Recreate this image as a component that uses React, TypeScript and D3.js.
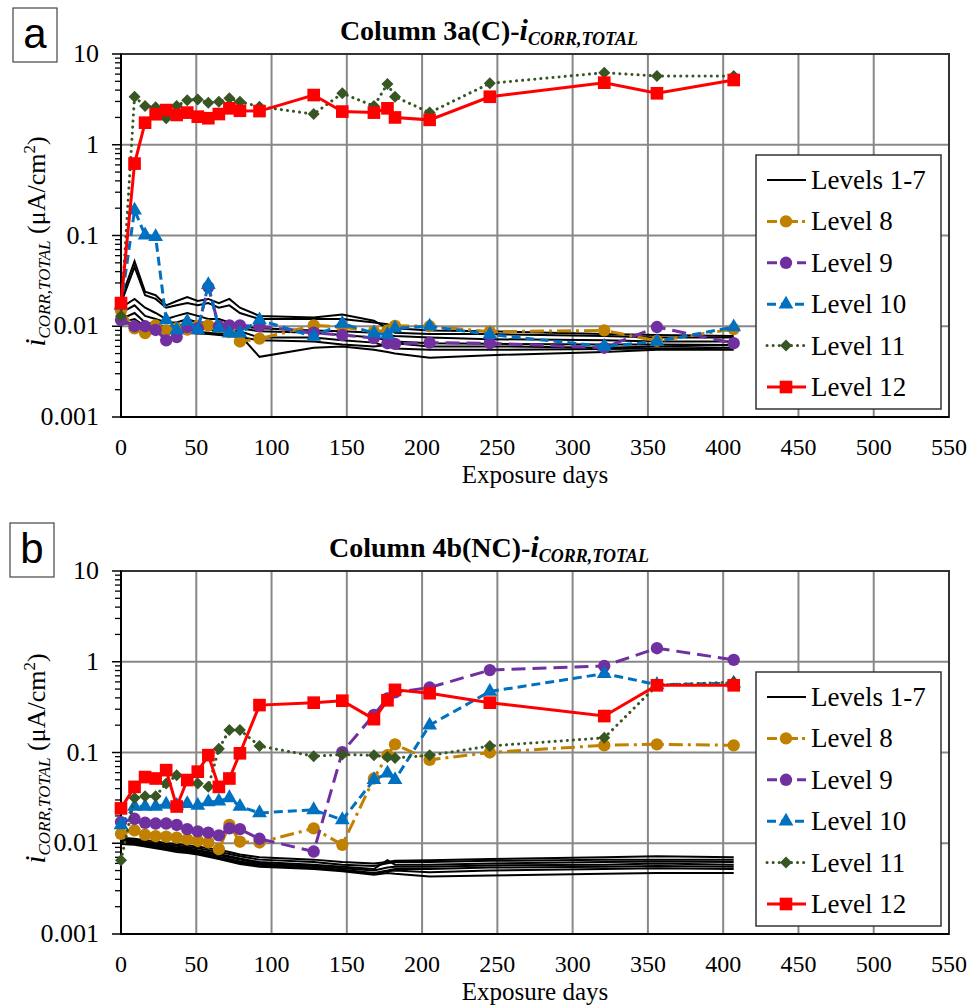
import React from 'react'
import * as d3 from 'd3'

// exposure days shared by every series
const days = [0, 9, 16, 23, 30, 37, 44, 51, 58, 65, 72, 79, 92, 128, 147, 168, 177, 182, 205, 245, 321, 356, 407]

// Column 3a (C)
const a_levels17 = [
  [0.02, 0.052, 0.024, 0.022, 0.017, 0.019, 0.021, 0.019, 0.02, 0.018, 0.02, 0.016, 0.013, 0.0125, 0.0135, 0.0115, 0.0095, 0.0085, 0.0082, 0.0082, 0.0078, 0.0075, 0.0075],
  [0.018, 0.045, 0.022, 0.02, 0.016, 0.017, 0.018, 0.017, 0.018, 0.016, 0.017, 0.014, 0.012, 0.012, 0.012, 0.011, 0.0105, 0.0095, 0.009, 0.0088, 0.0082, 0.008, 0.0078],
  [0.016, 0.02, 0.016, 0.014, 0.012, 0.013, 0.014, 0.013, 0.012, 0.012, 0.011, 0.01, 0.0095, 0.009, 0.0088, 0.0085, 0.008, 0.0078, 0.0075, 0.0072, 0.007, 0.0068, 0.0068],
  [0.014, 0.017, 0.013, 0.012, 0.011, 0.011, 0.012, 0.011, 0.011, 0.01, 0.01, 0.0095, 0.0088, 0.0085, 0.008, 0.0075, 0.007, 0.0068, 0.0065, 0.0064, 0.0063, 0.0063, 0.0062],
  [0.012, 0.014, 0.011, 0.0105, 0.0098, 0.0095, 0.0098, 0.0095, 0.0092, 0.009, 0.009, 0.0088, 0.0075, 0.0075, 0.007, 0.0066, 0.006, 0.0057, 0.0055, 0.0055, 0.0056, 0.0057, 0.0058],
  [0.011, 0.012, 0.01, 0.0095, 0.009, 0.009, 0.0088, 0.0087, 0.0085, 0.0083, 0.0082, 0.008, 0.0046, 0.0058, 0.006, 0.0055, 0.0052, 0.005, 0.0045, 0.0048, 0.0052, 0.0055, 0.0055],
  [0.0105, 0.011, 0.0098, 0.009, 0.0087, 0.0085, 0.0085, 0.0083, 0.0082, 0.008, 0.0078, 0.0076, 0.007, 0.0068, 0.0063, 0.006, 0.0062, 0.0065, 0.006, 0.006, 0.0058, 0.006, 0.0062]
]
const a_level8 = [0.015, 0.0095, 0.0084, 0.0102, 0.009, 0.0095, 0.0092, 0.01, 0.0102, 0.0098, 0.0086, 0.0068, 0.0073, 0.0102, 0.0098, 0.0087, 0.009, 0.0101, 0.01, 0.0087, 0.009, 0.0069, 0.0093]
const a_level9 = [0.0117, 0.01, 0.01, 0.0091, 0.007, 0.0076, 0.0098, 0.0095, 0.027, 0.01, 0.0102, 0.0102, 0.01, 0.0085, 0.008, 0.0074, 0.0065, 0.0064, 0.0066, 0.0065, 0.0058, 0.0098, 0.0065]
const a_level10 = [0.017, 0.19, 0.101, 0.097, 0.0117, 0.0091, 0.0113, 0.0091, 0.0286, 0.0095, 0.0084, 0.0084, 0.0117, 0.0077, 0.0107, 0.0084, 0.0081, 0.0095, 0.01, 0.0081, 0.006, 0.0068, 0.0098]
const a_level11 = [0.013, 3.38, 2.67, 2.59, 1.96, 2.67, 3.1, 3.16, 2.9, 2.98, 3.25, 2.98, 2.63, 2.18, 3.69, 2.67, 4.67, 3.38, 2.26, 4.75, 6.22, 5.72, 5.72]
const a_level12 = [0.018, 0.62, 1.75, 2.17, 2.41, 2.13, 2.26, 2.04, 1.96, 2.18, 2.52, 2.37, 2.35, 3.53, 2.32, 2.26, 2.52, 2.0, 1.88, 3.38, 4.83, 3.69, 5.17]

// Column 4b (NC)
const b_levels17 = [
  [0.0115, 0.0112, 0.0108, 0.0105, 0.01, 0.0098, 0.0095, 0.0092, 0.0088, 0.0085, 0.008, 0.0075, 0.007, 0.0066, 0.0062, 0.006, 0.0062, 0.0064, 0.0065, 0.0067, 0.007, 0.0072, 0.007],
  [0.011, 0.0108, 0.0104, 0.01, 0.0096, 0.0094, 0.0091, 0.0088, 0.0084, 0.008, 0.0076, 0.0072, 0.0066, 0.0062, 0.0058, 0.0056, 0.006, 0.0062, 0.0062, 0.0064, 0.0066, 0.0066, 0.0066],
  [0.0108, 0.0104, 0.01, 0.0097, 0.0093, 0.009, 0.0088, 0.0084, 0.008, 0.0076, 0.0072, 0.0068, 0.0062, 0.0058, 0.0055, 0.0052, 0.0065, 0.0058, 0.0058, 0.006, 0.0062, 0.0063, 0.0062],
  [0.0105, 0.0102, 0.0098, 0.0094, 0.009, 0.0088, 0.0085, 0.0082, 0.0078, 0.0074, 0.007, 0.0066, 0.006, 0.0056, 0.0053, 0.005, 0.0054, 0.0055, 0.0055, 0.0057, 0.0058, 0.006, 0.0058],
  [0.0102, 0.01, 0.0096, 0.0092, 0.0088, 0.0085, 0.0082, 0.0079, 0.0075, 0.0071, 0.0067, 0.0063, 0.0058, 0.0054, 0.0051, 0.0047, 0.005, 0.0052, 0.0052, 0.0054, 0.0055, 0.0056, 0.0055],
  [0.01, 0.0098, 0.0094, 0.009, 0.0086, 0.0083, 0.008, 0.0077, 0.0073, 0.0069, 0.0065, 0.0061, 0.0056, 0.0053, 0.005, 0.0046, 0.0049, 0.005, 0.0048, 0.005, 0.0052, 0.0053, 0.0052],
  [0.0098, 0.0096, 0.0092, 0.0088, 0.0084, 0.008, 0.0078, 0.0075, 0.0071, 0.0067, 0.0063, 0.0059, 0.0055, 0.0052, 0.0049, 0.0045, 0.0047, 0.0046, 0.0043, 0.0044, 0.0046, 0.0047, 0.0047]
]
const b_level8 = [0.0127, 0.0139, 0.0124, 0.012, 0.0118, 0.0115, 0.011, 0.0106, 0.0102, 0.0086, 0.0159, 0.0104, 0.0102, 0.0146, 0.0096, 0.0517, 0.0935, 0.123, 0.083, 0.1, 0.12, 0.123, 0.12]
const b_level9 = [0.0171, 0.0186, 0.0168, 0.0165, 0.0165, 0.0159, 0.0143, 0.0135, 0.0131, 0.0122, 0.0146, 0.0143, 0.0112, 0.0081, 0.101, 0.26, 0.395, 0.46, 0.52, 0.81, 0.9, 1.41, 1.05]
const b_level10 = [0.0159, 0.0254, 0.0254, 0.0254, 0.0268, 0.026, 0.0272, 0.026, 0.0285, 0.029, 0.0316, 0.0254, 0.0216, 0.0233, 0.0181, 0.05, 0.059, 0.05, 0.2, 0.47, 0.74, 0.56, 0.58]
const b_level11 = [0.0065, 0.0316, 0.033, 0.033, 0.0456, 0.056, 0.05, 0.0456, 0.042, 0.11, 0.177, 0.177, 0.118, 0.091, 0.095, 0.093, 0.089, 0.087, 0.093, 0.118, 0.145, 0.55, 0.6]
const b_level12 = [0.0242, 0.0418, 0.0536, 0.0517, 0.0639, 0.0254, 0.0497, 0.0615, 0.0935, 0.0418, 0.0517, 0.098, 0.333, 0.354, 0.372, 0.233, 0.376, 0.49, 0.45, 0.354, 0.252, 0.55, 0.55]

const xTicks = [0, 50, 100, 150, 200, 250, 300, 350, 400, 450, 500, 550]
const yTicks = [10, 1, 0.1, 0.01, 0.001]
const yTickLabels = ['10', '1', '0.1', '0.01', '0.001']
const legendLabels = ['Levels 1-7', 'Level 8', 'Level 9', 'Level 10', 'Level 11', 'Level 12']

const FONT = "'Liberation Serif', serif"

// style of each level series (8..12)
const styles = [
  { color: '#C08000', dash: '14,5,3,5', legDash: '10,4,3,4', symbol: d3.symbolCircle, size: 120, rot: 0 },
  { color: '#7030A0', dash: '14,7', legDash: '10,5', symbol: d3.symbolCircle, size: 120, rot: 0 },
  { color: '#0070C0', dash: '9,5', legDash: '9,5', symbol: d3.symbolTriangle, size: 95, rot: 0 },
  { color: '#375623', dash: '0.1,6', legDash: '0.1,6', symbol: d3.symbolSquare, size: 72, rot: 45 },
  { color: '#FF0000', dash: null, legDash: null, symbol: d3.symbolSquare, size: 160, rot: 0 }
]

const L = 121, R = 949, T = 54, B = 417

function Panel({ dy, letter, letterBox, title, black, levels }) {
  const x = d3.scaleLinear().domain([0, 550]).range([L, R])
  const y = d3.scaleLog().domain([0.001, 10]).range([B, T])
  const line = d3.line().x((d) => x(d[0])).y((d) => y(d[1]))
  const minor = []
  for (let e = -3; e < 1; e++) for (let k = 2; k <= 9; k++) minor.push(k * Math.pow(10, e))

  const legendY = (i) => T + 126 + i * 41.4

  return (
    <g transform={`translate(0,${dy})`} style={{ fontFamily: FONT }}>
      {/* letter box */}
      <rect x={letterBox[0]} y={letterBox[1]} width={44} height={54} fill="none" stroke="#444" strokeWidth={1.2} />
      <text x={letterBox[0] + 22} y={letterBox[1] + 40} textAnchor="middle" fontSize={42}
        style={{ fontFamily: "'Liberation Sans', Arial, sans-serif" }}>{letter}</text>

      {/* title */}
      <text x={489} y={40} textAnchor="middle" fontSize={28} fontWeight="bold">
        {title}
        <tspan fontStyle="italic" fontSize={30}>i</tspan>
        <tspan fontStyle="italic" fontSize={18} dy={5}>CORR,TOTAL</tspan>
      </text>

      {/* grid */}
      {xTicks.slice(1, -1).map((t) => (
        <line key={'gx' + t} x1={x(t)} x2={x(t)} y1={T} y2={B} stroke="#888" strokeWidth={2} />
      ))}
      {yTicks.slice(1, -1).map((t) => (
        <line key={'gy' + t} x1={L} x2={R} y1={y(t)} y2={y(t)} stroke="#888" strokeWidth={2} />
      ))}
      <rect x={L} y={T} width={R - L} height={B - T} fill="none" stroke="#333" strokeWidth={2} />

      {/* y ticks */}
      {minor.map((t) => (
        <line key={'mn' + t} x1={L - 6} x2={L} y1={y(t)} y2={y(t)} stroke="#000" strokeWidth={1.3} />
      ))}
      {yTicks.map((t, i) => (
        <g key={'yt' + t}>
          <line x1={L - 9} x2={L} y1={y(t)} y2={y(t)} stroke="#000" strokeWidth={1.5} />
          <text x={L - 22} y={y(t) + 8} textAnchor="end" fontSize={26}>{yTickLabels[i]}</text>
        </g>
      ))}
      <line x1={L} x2={L} y1={T} y2={B} stroke="#000" strokeWidth={2} />
      <line x1={L} x2={R} y1={B} y2={B} stroke="#000" strokeWidth={2} />

      {/* x tick labels */}
      {xTicks.map((t) => (
        <text key={'xt' + t} x={x(t)} y={B + 38} textAnchor="middle" fontSize={24}>{String(t)}</text>
      ))}
      <text x={(L + R) / 2} y={B + 66} textAnchor="middle" fontSize={25}>Exposure days</text>

      {/* y label */}
      <text transform={`translate(45,${(T + B) / 2 + 6}) rotate(-90)`} textAnchor="middle" fontSize={26}>
        <tspan fontStyle="italic" fontSize={29}>i</tspan>
        <tspan fontStyle="italic" fontSize={17} dy={5}>CORR,TOTAL</tspan>
        <tspan dy={-5}> (μA/cm</tspan>
        <tspan fontSize={17} dy={-10}>2</tspan>
        <tspan dy={10}>)</tspan>
      </text>

      {/* levels 1-7 */}
      {black.map((s, i) => (
        <path key={'bk' + i} d={line(days.map((d, j) => [d, s[j]]))} fill="none" stroke="#000" strokeWidth={2} />
      ))}

      {/* levels 8-12 */}
      {levels.map((s, i) => {
        const st = styles[i]
        const pts = days.map((d, j) => [d, s[j]])
        const sym = d3.symbol().type(st.symbol).size(st.size)()
        return (
          <g key={'lv' + i}>
            <path d={line(pts)} fill="none" stroke={st.color} strokeWidth={3}
              strokeDasharray={st.dash || undefined} strokeLinecap={i === 3 ? 'round' : 'butt'} />
            {pts.map((p, j) => (
              <path key={j} d={sym} fill={st.color}
                transform={`translate(${x(p[0])},${y(p[1])}) rotate(${st.rot})`} />
            ))}
          </g>
        )
      })}

      {/* legend */}
      <rect x={756} y={T + 101} width={185} height={254} fill="#fff" stroke="#333" strokeWidth={1.5} />
      {legendLabels.map((lab, i) => {
        const ly = legendY(i)
        const st = i > 0 ? styles[i - 1] : null
        return (
          <g key={'lg' + i}>
            <line x1={767} x2={806} y1={ly} y2={ly} stroke={st ? st.color : '#000'}
              strokeWidth={st ? 3 : 2} strokeDasharray={st && st.legDash ? st.legDash : undefined}
              strokeLinecap={i === 4 ? 'round' : 'butt'} />
            {st && (
              <path d={d3.symbol().type(st.symbol).size(st.size)()} fill={st.color}
                transform={`translate(786,${ly}) rotate(${st.rot})`} />
            )}
            <text x={811} y={ly + 9} fontSize={27}>{lab}</text>
          </g>
        )
      })}
    </g>
  )
}

export default function App() {
  return (
    <svg width={971} height={1005} style={{ position: 'absolute', left: 0, top: 0, background: '#fff' }}>
      <rect width={971} height={1005} fill="#fff" />
      <Panel dy={0} letter="a" letterBox={[13, 8]} title="Column 3a(C)-" black={a_levels17}
        levels={[a_level8, a_level9, a_level10, a_level11, a_level12]} />
      <Panel dy={517} letter="b" letterBox={[10, 6]} title="Column 4b(NC)-" black={b_levels17}
        levels={[b_level8, b_level9, b_level10, b_level11, b_level12]} />
    </svg>
  )
}
